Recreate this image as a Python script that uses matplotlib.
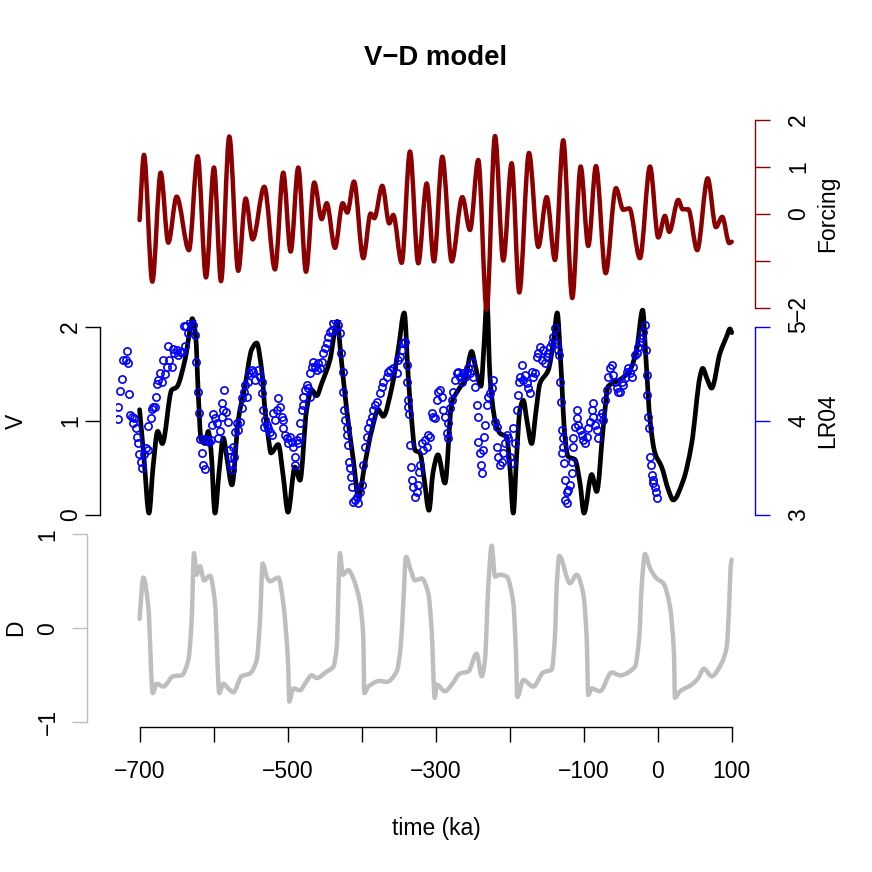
import numpy as np
import matplotlib
matplotlib.use("Agg")
import matplotlib.pyplot as plt
from matplotlib.path import Path
from matplotlib.patches import PathPatch

plt.rcParams['font.family'] = ['Liberation Sans', 'DejaVu Sans']

# ---- data ----
# orbital forcing (time in ka)
forc_t = [-700, -694.1, -682.8, -671.5, -661.2, -649.9, -633.3, -621.5, -610.3, -599.5,
          -590.0, -578.8, -566.7, -556.7, -547.2, -531.5, -517.1, -505.9, -495.9, -485.6,
          -475.2, -464.0, -454.0, -447.2, -436.0, -425.6, -419.4, -410.3, -397.8, -387.8,
          -382.9, -372.1, -362.7, -357.3, -345.9, -334.7, -323.5, -312.1, -302.3, -291.0,
          -278.3, -264.0, -253.6, -242.4, -231.1, -219.8, -208.6, -197.3, -187.0, -173.9,
          -161.3, -150.0, -138.8, -127.6, -115.4, -104.1, -93.8, -83.4, -70.3, -56.4,
          -46.5, -38.4, -24.0, -10.4, 0.8, 9.8, 15.6, 27.8, 33.7, 41.3,
          53.4, 67.5, 78.7, 87.2, 96.7, 100]
forc_v = [-0.13, 1.26, -1.44, 0.88, -0.61, 0.37, -0.77, 1.23, -1.35, 0.99,
          -1.43, 1.65, -1.21, 0.33, -0.54, 0.58, -1.18, 0.88, -0.80, 0.99,
          -1.23, 0.67, -0.11, 0.23, -0.72, 0.23, 0.03, 0.69, -0.94, 0.01,
          -0.09, 0.60, -0.20, -0.02, -1.04, 1.33, -1.05, 0.65, -1.01, 1.22,
          -1.01, 0.36, -0.34, 1.15, -2.04, 1.66, -0.99, 1.08, -1.67, 1.30,
          -0.70, 0.36, -0.98, 1.57, -1.79, 1.01, -0.68, 1.02, -1.26, 0.55,
          0.09, 0.12, -0.94, 1.01, -0.50, -0.04, -0.38, 0.30, 0.10, 0.10,
          -0.77, 0.76, -0.28, -0.06, -0.62, -0.59]

# ice volume V
v_t = [-700, -694.0, -687.3, -681.9, -675.5, -669.3, -656.6, -649.9, -638.7, -631.9,
       -628.8, -624.2, -620.7, -617.0, -611.6, -607.2, -603.5, -598.1, -592.7, -586.9,
       -581.9, -575.2, -566.7, -557.6, -548.6, -541.8, -535.0, -530.6, -526.1, -522.5,
       -512.6, -505.9, -499.5, -490.1, -483.3, -474.3, -467.5, -460.7, -454.0, -442.8,
       -432.9, -428.3, -420.2, -411.3, -404.3, -395.5, -386.4, -377.5, -370.8, -359.4,
       -350.5, -342.4, -337.0, -332.4, -327.9, -321.2, -315.8, -309.0, -303.6, -296.9,
       -287.4, -278.3, -269.4, -260.4, -251.3, -246.8, -238.8, -234.7, -230.7, -226.6,
       -219.8, -213.1, -204.0, -199.6, -195.1, -190.8, -186.1, -181.6, -176.6, -170.3,
       -164.5, -159.1, -147.9, -141.1, -135.7, -131.2, -125.3, -120.9, -111.8, -105.0,
       -99.6, -89.2, -82.4, -73.5, -66.8, -51.0, -37.5, -28.4, -20.3, -15.8,
       -10.4, -3.7, 5.4, 14.3, 21.0, 34.6, 45.9, 57.1, 60.8, 66.6,
       72.9, 84.1, 93.2, 97.6, 100]
v_v = [1.12, 0.60, 0.02, 0.50, 0.89, 0.76, 1.33, 1.36, 1.65, 1.97,
       2.09, 1.90, 1.29, 0.80, 0.76, 0.89, 0.69, 0.02, 0.45, 0.82,
       0.60, 0.32, 1.01, 1.37, 1.76, 1.83, 1.54, 1.12, 0.83, 0.66,
       0.75, 0.41, 0.03, 0.51, 0.37, 1.12, 1.33, 1.27, 1.40, 1.65,
       2.06, 1.72, 1.12, 0.59, 0.19, 0.55, 0.90, 1.12, 1.05, 1.35,
       1.76, 2.15, 1.47, 1.01, 0.69, 0.66, 0.40, 0.05, 0.45, 0.64,
       0.34, 1.19, 1.33, 1.44, 1.74, 1.60, 1.37, 1.80, 2.29, 1.47,
       1.01, 0.87, 0.83, 0.50, 0.02, 0.60, 1.12, 1.22, 1.00, 0.76,
       1.10, 1.40, 1.54, 1.83, 2.15, 1.65, 0.83, 0.62, 0.59, 0.34,
       0.02, 0.43, 0.25, 0.94, 1.37, 1.44, 1.54, 1.76, 2.18, 1.65,
       1.01, 0.66, 0.51, 0.27, 0.16, 0.37, 0.76, 1.47, 1.56, 1.45,
       1.35, 1.72, 1.90, 1.98, 1.94]

# second variable D
d_t = [-700, -695.0, -688.2, -682.3, -676.9, -668.0, -654.5, -643.1, -634.2, -629.6,
       -626.5, -622.9, -618.4, -613.0, -604.9, -598.1, -592.3, -586.9, -580.2, -573.4,
       -562.1, -550.9, -541.8, -537.3, -533.7, -528.3, -523.8, -512.6, -505.9, -499.1,
       -497.8, -492.4, -483.3, -476.5, -467.5, -460.7, -447.2, -438.3, -433.7, -429.3,
       -425.6, -418.0, -411.3, -402.2, -397.8, -396.4, -391.0, -375.2, -366.2, -352.7,
       -347.3, -343.7, -340.1, -333.7, -327.9, -318.9, -309.9, -305.4, -301.2, -298.6,
       -287.4, -278.3, -267.1, -255.9, -244.6, -237.8, -233.4, -228.9, -224.3, -219.8,
       -213.1, -204.0, -195.1, -191.5, -189.7, -181.6, -168.1, -154.6, -143.2, -138.8,
       -136.5, -133.0, -118.5, -109.5, -100.6, -96.0, -93.8, -89.2, -78.0, -62.2,
       -51.0, -30.8, -24.9, -21.7, -17.2, -10.4, -1.4, 7.5, 16.6, 22.0,
       23.3, 30.1, 45.9, 54.8, 62.5, 72.9, 86.4, 93.2, 96.7, 98.6, 100]
d_v = [0.10, 0.54, 0.23, -0.69, -0.59, -0.62, -0.51, -0.50, -0.34, 0.09,
       0.80, 0.57, 0.66, 0.51, 0.56, 0.27, -0.69, -0.59, -0.64, -0.68,
       -0.51, -0.48, -0.34, 0.09, 0.69, 0.55, 0.50, 0.54, 0.27, -0.41,
       -0.78, -0.64, -0.66, -0.59, -0.50, -0.53, -0.46, -0.41, -0.20, 0.80,
       0.57, 0.62, 0.53, 0.27, -0.09, -0.69, -0.62, -0.56, -0.57, -0.46,
       -0.20, 0.27, 0.76, 0.62, 0.51, 0.53, 0.37, -0.02, -0.74, -0.60,
       -0.67, -0.60, -0.48, -0.46, -0.27, -0.51, -0.34, 0.44, 0.88, 0.55,
       0.57, 0.55, 0.27, -0.27, -0.73, -0.55, -0.62, -0.47, -0.44, -0.09,
       0.44, 0.77, 0.48, 0.57, 0.37, -0.09, -0.71, -0.64, -0.67, -0.47,
       -0.50, -0.41, -0.09, 0.44, 0.79, 0.64, 0.53, 0.48, 0.23, -0.27,
       -0.74, -0.67, -0.60, -0.53, -0.43, -0.51, -0.37, -0.20, 0.27, 0.66, 0.73]

# LR04 benthic d18O stack
lr_t = [-729.6, -729.6, -726.4, -724.2, -721.9, -718.8, -717.4, -715.2, -714.3, -712.9,
        -709.8, -708.4, -707.1, -705.3, -703.9, -701.7, -700.3, -698.5, -696.3, -693.6,
        -691.8, -689.1, -688.2, -684.6, -683.7, -681.4, -679.2, -677.8, -676.9, -674.7,
        -672.4, -670.1, -667.9, -665.6, -663.4, -660.2, -656.6, -661.1, -654.4, -653.0,
        -649.9, -647.6, -645.4, -642.2, -638.6, -640.4, -636.8, -634.1, -631.9, -629.6,
        -627.4, -625.1, -624.2, -621.5, -619.3, -618.4, -616.1, -614.8, -611.6, -613.0,
        -609.4, -606.2, -603.5, -602.6, -600.4, -598.1, -595.9, -593.6, -591.4, -589.1,
        -588.2, -586.8, -585.5, -583.7, -581.0, -579.2, -577.8, -576.5, -575.6, -573.3,
        -572.0, -571.1, -568.8, -566.6, -564.3, -562.1, -561.2, -558.5, -557.6, -555.3,
        -553.1, -551.7, -548.6,
        -546.3, -544.1, -539.6, -537.3, -535.1, -535.1, -532.8, -530.6, -532.0, -528.3,
        -526.1, -523.8, -521.6, -519.3, -517.1, -514.8, -512.6, -510.3, -508.1, -505.8,
        -505.8, -503.6, -501.3, -499.1, -496.8, -494.6, -492.3, -490.1, -487.8, -485.6,
        -483.3, -490.1, -483.3, -481.1, -478.8, -478.8, -476.6, -474.3, -472.1, -469.8,
        -469.8, -467.6, -465.3, -463.0, -460.8, -458.5, -456.3, -454.0, -451.8, -449.5,
        -447.3, -445.0, -442.8, -440.5, -438.3, -436.0, -433.8, -431.5, -429.3, -427.9,
        -425.7, -424.8, -423.4, -422.5, -420.3, -419.4, -418.0, -416.7, -415.8, -414.4,
        -413.5, -411.3, -409.0, -406.8, -404.5, -402.3, -400.0, -397.7, -395.5, -393.3,
        -391.0, -388.8, -386.5, -384.3, -382.0, -379.7, -375.2, -373.0, -370.7, -366.2,
        -364.0, -361.7, -357.2,
        -352.7, -350.4, -348.2, -346.0, -343.7, -341.4, -339.2, -339.2, -337.0, -337.8,
        -336.0, -334.7, -333.3, -332.4, -330.2, -327.9, -325.7, -323.4, -322.5, -321.2,
        -318.9, -316.7, -314.4, -312.2, -309.9, -307.7, -305.4, -303.2, -300.9, -298.7,
        -296.4, -294.2, -291.9, -289.7, -287.4, -285.2, -283.8, -282.9, -280.7, -278.4,
        -276.2, -273.9, -271.7, -269.4, -267.1, -264.9, -262.6, -260.4, -258.1, -255.9,
        -253.6, -251.4, -249.1, -246.9, -244.6, -243.3, -242.4, -240.1, -239.2, -237.9,
        -235.6, -234.3, -233.4, -231.1, -228.9, -226.6, -224.4, -222.1, -219.9, -217.6,
        -217.6, -215.4, -213.1, -210.9, -208.6, -206.4, -204.1, -201.9, -199.6, -197.3,
        -195.1, -192.8, -190.6, -189.2, -187.4, -186.1, -183.8, -181.6, -179.3, -177.1,
        -174.8, -172.6, -170.3, -168.1, -165.8, -163.6, -161.3,
        -159.1, -156.8, -154.6, -152.3, -150.1, -147.8, -145.6, -143.3, -141.1, -138.8,
        -136.6, -134.3, -133.0, -132.1, -131.1, -129.8, -128.4, -127.5, -129.8, -126.6,
        -125.3, -123.0, -125.3, -123.0, -120.8, -118.5, -116.3, -116.3, -114.0, -114.0,
        -111.8, -109.5, -108.6, -107.3, -105.0, -102.8, -100.5, -98.3, -96.0, -93.8,
        -91.5, -89.3, -87.9, -87.0, -84.8, -82.5, -80.3, -78.0, -75.8, -73.5,
        -71.3, -69.0, -66.8, -64.5, -62.3, -60.0, -57.7, -55.5, -53.2, -51.0,
        -48.7, -46.5, -44.2, -42.0, -39.7, -37.5, -35.2, -33.0, -30.7, -28.5,
        -26.2, -24.0, -21.7, -19.5, -17.2, -15.9, -15.0, -14.1, -12.7, -11.4,
        -10.5, -9.6, -8.2, -6.9, -6.0, -3.7, -2.4, -1.5]
lr_d = [4.153, 4.018, 4.319, 4.443, 4.649, 4.649, 4.748, 4.614, 4.287, 4.064,
        4.046, 3.975, 4.029, 3.922, 3.834, 3.763, 3.649, 3.568, 3.497, 3.649,
        3.709, 3.692, 3.947, 4.029, 4.124, 4.146, 4.146, 4.259, 4.394, 4.436,
        4.514, 4.419, 4.649, 4.500, 4.571, 4.649, 4.571, 4.798, 4.763, 4.720,
        4.756, 4.702, 4.738, 4.738, 4.798, 5.011, 5.011, 4.933, 5.057, 5.092,
        5.021, 4.915, 4.631, 4.312, 4.089, 3.805, 3.656, 3.532, 3.486, 3.805,
        3.798, 3.780, 3.798, 3.958, 4.075, 4.029, 3.975, 3.816, 3.897, 4.046,
        4.188, 4.117, 4.330, 4.099, 3.993, 3.692, 3.621, 3.532, 3.479, 3.727,
        3.621, 3.887, 3.975, 3.904, 3.993, 4.135, 4.241, 4.312, 4.383, 4.259,
        4.419, 4.514, 4.543,
        4.525, 4.436, 4.543, 4.472, 4.419, 4.294, 4.117, 4.011, 3.940, 3.958,
        3.922, 3.887, 3.851, 4.082, 4.011, 4.117, 4.241, 4.153, 4.046, 4.011,
        3.922, 3.851, 3.816, 3.763, 3.834, 3.780, 3.727, 3.621, 3.798, 3.763,
        3.834, 3.532, 3.975, 4.117, 4.170, 4.259, 4.330, 4.383, 4.348, 4.259,
        4.507, 4.578, 4.631, 4.578, 4.543, 4.614, 4.560, 4.631, 4.720, 4.773,
        4.826, 4.897, 4.951, 4.968, 5.039, 5.075, 5.092, 5.021, 4.933, 4.720,
        4.525, 4.312, 4.117, 4.011, 3.922, 3.851, 3.745, 3.568, 3.497, 3.408,
        3.302, 3.142, 3.160, 3.195, 3.124, 3.248, 3.319, 3.532, 3.727, 3.834,
        3.922, 3.993, 4.046, 4.117, 4.170, 4.206, 4.294, 4.365, 4.419, 4.472,
        4.525, 4.543, 4.560,
        4.507, 4.649, 4.685, 4.756, 4.826, 4.844, 4.596, 4.419, 4.224, 4.153,
        4.075, 3.745, 3.514, 3.373, 3.302, 3.195, 3.248, 3.319, 3.461, 3.532,
        3.763, 3.692, 3.798, 3.727, 3.851, 3.834, 4.082, 4.046, 4.029, 4.224,
        4.312, 4.330, 4.259, 4.117, 4.046, 3.869, 3.816, 3.975, 4.135, 4.224,
        4.312, 4.436, 4.507, 4.525, 4.472, 4.419, 4.507, 4.472, 4.525, 4.560,
        4.507, 4.631, 4.472, 4.365, 4.170, 4.046, 3.780, 3.656, 3.532, 3.443,
        3.692, 3.834, 3.958, 4.170, 4.259, 4.294, 4.348, 4.436, 3.993, 3.940,
        3.727, 3.621, 3.532, 3.568, 3.656, 3.763, 3.851, 3.816, 3.621, 3.550,
        3.922, 3.763, 4.117, 4.277, 4.419, 4.472, 4.596, 4.436, 4.490, 4.401,
        4.348, 4.294, 4.525, 4.472, 4.507, 4.685, 4.720,
        4.791, 4.649, 4.756, 4.614, 4.685, 4.720, 4.791, 4.826, 4.897, 4.986,
        4.826, 4.756, 4.702, 4.419, 4.206, 3.904, 3.816, 3.727, 3.656, 3.550,
        3.373, 3.248, 3.160, 3.124, 3.266, 3.319, 3.443, 3.568, 3.727, 3.816,
        3.940, 4.029, 4.117, 3.958, 3.904, 3.851, 3.798, 3.763, 3.834, 3.922,
        3.993, 4.117, 4.188, 4.046, 3.958, 3.904, 3.816, 4.046, 4.082, 4.011,
        4.224, 4.330, 4.472, 4.560, 4.596, 4.490, 4.419, 4.348, 4.312, 4.312,
        4.419, 4.383, 4.454, 4.525, 4.560, 4.507, 4.472, 4.578, 4.702, 4.720,
        4.791, 4.844, 4.880, 4.951, 5.021, 4.756, 4.490, 4.277, 4.046, 3.922,
        3.621, 3.532, 3.426, 3.373, 3.337, 3.302, 3.248, 3.177]

time_ticks = [-700, -600, -500, -400, -300, -200, -100, 0, 100]
time_labels = ['\u2212700', '', '\u2212500', '', '\u2212300', '', '\u2212100', '0', '100']

DARKRED = '#8B0000'
GREY = '#BEBEBE'
W = 872.0
PT = 0.72   # points per pixel at dpi 100
FS = 16.5


def rect(top, bottom, left=115.9, right=755.4):
    return [left / W, 1 - bottom / W, (right - left) / W, (bottom - top) / W]


def bare(ax):
    for s in ax.spines.values():
        s.set_visible(False)
    ax.patch.set_visible(False)
    ax.set_xlim(-732, 132)
    ax.set_xticks([])


def smooth_line(ax, x, y, **kw):
    # draw the read points joined by monotone cubic segments (flat at turning points)
    x = np.asarray(x, float)
    y = np.asarray(y, float)
    h = np.diff(x)
    s = np.diff(y) / h
    m = np.zeros_like(y)
    m[0], m[-1] = s[0], s[-1]
    for i in range(1, len(y) - 1):
        if s[i - 1] * s[i] > 0:
            m[i] = 2.0 / (1.0 / s[i - 1] + 1.0 / s[i])
    verts = [(x[0], y[0])]
    codes = [Path.MOVETO]
    for i in range(len(h)):
        verts += [(x[i] + h[i] / 3, y[i] + m[i] * h[i] / 3),
                  (x[i + 1] - h[i] / 3, y[i + 1] - m[i + 1] * h[i] / 3),
                  (x[i + 1], y[i + 1])]
        codes += [Path.CURVE4] * 3
    patch = PathPatch(Path(verts, codes), fill=False, capstyle='round',
                      joinstyle='round', **kw)
    ax.add_patch(patch)
    return patch


fig = plt.figure(figsize=(8.72, 8.72), dpi=100)

# middle panel: V and LR04
ax_v = fig.add_axes(rect(319.5, 522.5))
bare(ax_v)
ax_v.set_ylim(-0.08, 2.08)
smooth_line(ax_v, v_t, v_v, edgecolor='black', lw=3.4, clip_on=False)
ax_v.spines['left'].set_visible(True)
ax_v.spines['left'].set_position(('outward', 16 * PT))
ax_v.spines['left'].set_bounds(0, 2)
ax_v.set_yticks([0, 1, 2])
ax_v.set_yticklabels(['0', '1', '2'])

ax_l = ax_v.twinx()
bare(ax_l)
ax_l.plot(lr_t, lr_d, 'o', mfc='none', mec='blue', ms=5.2, mew=1.2)
ax_l.set_ylim(2.92, 5.08)
ax_l.spines['right'].set_visible(True)
ax_l.spines['right'].set_color('blue')
ax_l.spines['right'].set_bounds(3, 5)
ax_l.set_yticks([3, 4, 5])
ax_l.set_yticklabels(['3', '4', '5'])
ax_l.tick_params(axis='y', colors='blue', labelcolor='black')

# bottom panel: D
ax_d = fig.add_axes(rect(529.9, 726.7))
bare(ax_d)
ax_d.set_ylim(-1.047, 1.047)
smooth_line(ax_d, d_t, d_v, edgecolor=GREY, lw=3.2)
ax_d.spines['left'].set_visible(True)
ax_d.spines['left'].set_color(GREY)
ax_d.spines['left'].set_position(('outward', 29 * PT))
ax_d.spines['left'].set_bounds(-1, 1)
ax_d.set_yticks([-1, 0, 1])
ax_d.set_yticklabels(['\u22121', '0', '1'])
ax_d.tick_params(axis='y', colors=GREY, labelcolor='black')
ax_d.spines['bottom'].set_visible(True)
ax_d.spines['bottom'].set_bounds(-700, 100)
ax_d.set_xticks(time_ticks)
ax_d.set_xticklabels(time_labels)

# top panel: forcing
ax_f = fig.add_axes(rect(112.5, 315.5))
bare(ax_f)
ax_f.set_ylim(-2.16, 2.16)
smooth_line(ax_f, forc_t, forc_v, edgecolor=DARKRED, lw=3.2)
ax_f.yaxis.tick_right()
ax_f.spines['right'].set_visible(True)
ax_f.spines['right'].set_color(DARKRED)
ax_f.spines['right'].set_bounds(-2, 2)
ax_f.set_yticks([-2, -1, 0, 1, 2])
ax_f.set_yticklabels(['\u22122', '', '0', '1', '2'])
ax_f.tick_params(axis='y', colors=DARKRED, labelcolor='black')

for ax in (ax_v, ax_l, ax_d, ax_f):
    for s in ax.spines.values():
        s.set_linewidth(1.0)
    ax.tick_params(axis='both', length=15 * PT, width=1.0, labelsize=FS)
    ax.tick_params(axis='y', labelrotation=90)
ax_v.tick_params(axis='y', pad=2)
ax_d.tick_params(axis='y', pad=9)
for ax in (ax_v, ax_d):
    for lab in ax.get_yticklabels():
        lab.set_verticalalignment('center')
for ax in (ax_l, ax_f):
    ax.tick_params(axis='y', pad=12)
    for lab in ax.get_yticklabels():
        lab.set_verticalalignment('center')
ax_d.tick_params(axis='x', pad=13)

# titles and axis names
fig.text(436 / W, 1 - 58 / W, 'V\u2212D model', ha='center', va='center',
         fontsize=FS * 1.2, fontweight='bold')
fig.text(436 / W, 1 - 828 / W, 'time (ka)', ha='center', va='center', fontsize=FS)
fig.text(16 / W, 1 - 421 / W, 'V', ha='center', va='center', rotation=90, fontsize=FS)
fig.text(16 / W, 1 - 628 / W, 'D', ha='center', va='center', rotation=90, fontsize=FS)
fig.text(828 / W, 1 - 214 / W, 'Forcing', ha='center', va='center', rotation=90, fontsize=FS)
fig.text(828 / W, 1 - 421 / W, 'LR04', ha='center', va='center', rotation=90, fontsize=FS)

fig.savefig('out.png', dpi=100)
